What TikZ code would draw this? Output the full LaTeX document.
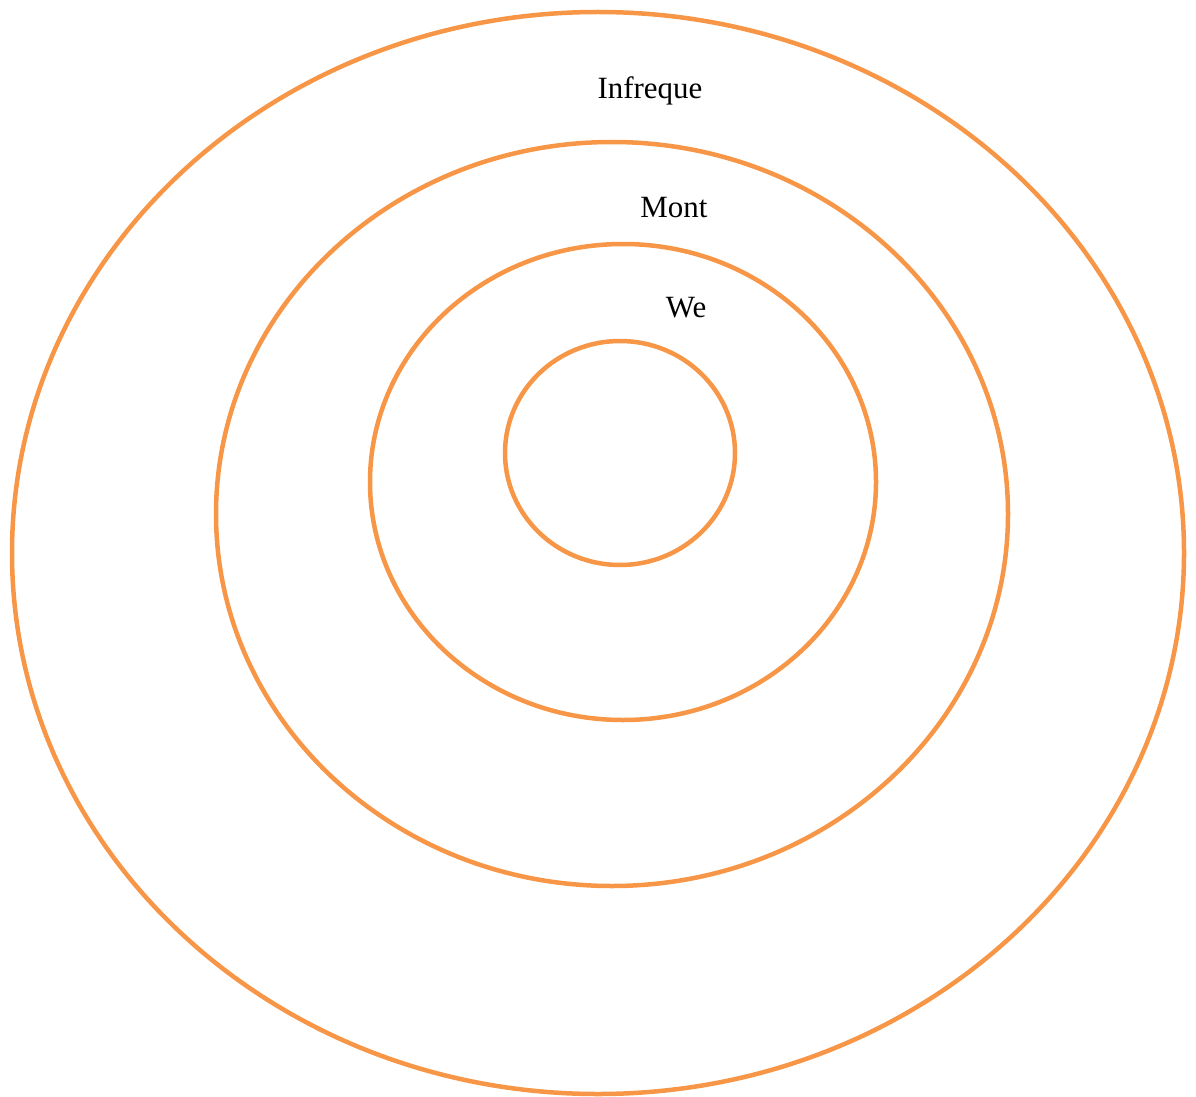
\documentclass[tikz,border=0pt]{standalone}
\usepackage{fontspec}
\setmainfont{Liberation Serif}
\usepackage{tikz}
\usetikzlibrary{positioning}
\definecolor{ringorange}{HTML}{F79646}

\begin{document}
\begin{tikzpicture}[x=0.025cm, y=-0.025cm,
    ring/.style={draw=ringorange, line width=3.2pt},
    lbl/.style={anchor=base, font=\fontsize{22}{26}\selectfont, inner sep=0pt}]
  \useasboundingbox (0,0) rectangle (1196,1097);
  \draw[ring] (598,553) ellipse [x radius=586, y radius=541];
  \draw[ring] (612,514) ellipse [x radius=396, y radius=372];
  \draw[ring] (623,482) ellipse [x radius=253, y radius=238];
  \draw[ring] (620,453) ellipse [x radius=115, y radius=112];
  \node[lbl] (infreq) at (650,99) {Infreque};
  \node[lbl] (mont) at (674,218) {Mont};
  \node[lbl] (we) at (686,317) {We};
\end{tikzpicture}
\end{document}
